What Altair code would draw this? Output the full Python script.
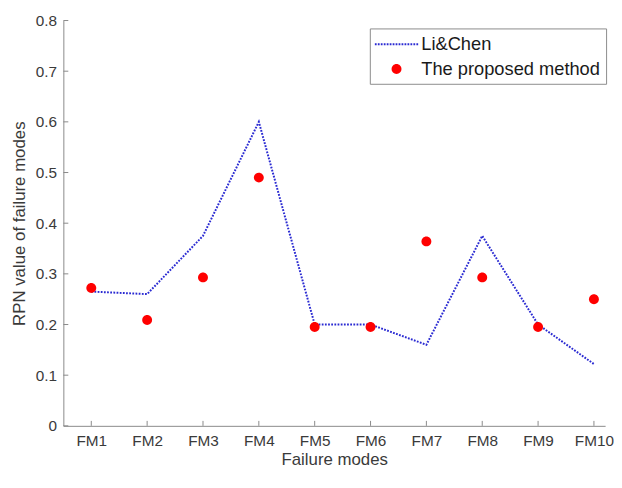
import altair as alt
import pandas as pd

# ---- data ----
modes = ["FM1", "FM2", "FM3", "FM4", "FM5", "FM6", "FM7", "FM8", "FM9", "FM10"]
li_chen = [0.265, 0.260, 0.375, 0.600, 0.200, 0.200, 0.160, 0.375, 0.200, 0.122]
proposed = [0.272, 0.209, 0.293, 0.490, 0.195, 0.195, 0.364, 0.293, 0.195, 0.250]
y_ticks = [0, 0.1, 0.2, 0.3, 0.4, 0.5, 0.6, 0.7, 0.8]
series = ["Li&Chen", "The proposed method"]

BLUE = "#2a2ad2"
RED = "#ff0000"
AXIS = "#8a8a8a"
TEXT = "#3a3a3a"
FONT = "Liberation Sans"
W, H = 548, 410

idx = list(range(1, len(modes) + 1))
df = pd.DataFrame({"idx": idx, "mode": modes, "li": li_chen, "pr": proposed})
df_pts = pd.DataFrame({"idx": idx, "pr": proposed, "series": [series[1]] * len(idx)})
df_yt = pd.DataFrame({"v": y_ticks})

# custom legend/point shapes (unit = sqrt(size)/2 px)
SIZE = 484
u = (SIZE ** 0.5) / 2
dot_parts = []
for k in range(15):
    cx = -21 + 3 * k
    dot_parts.append(
        f"M{(cx - 0.9) / u:.4f},{-0.9 / u:.4f}h{1.8 / u:.4f}v{1.8 / u:.4f}h{-1.8 / u:.4f}Z"
    )
dot_path = "".join(dot_parts)
r = 5 / u
circle_path = f"M{r:.4f},0A{r:.4f},{r:.4f} 0 1,1 {-r:.4f},0A{r:.4f},{r:.4f} 0 1,1 {r:.4f},0Z"

label_expr = "[" + ",".join(f"'{m}'" for m in modes) + "][datum.value-1]"

xscale = alt.Scale(domain=[0.5, 10.2], nice=False, zero=False)
yscale = alt.Scale(domain=[0, 0.8], nice=False)

x_axis = alt.Axis(values=idx, labelExpr=label_expr, title="Failure modes",
                  grid=False, ticks=False, domainColor=AXIS, labelPadding=8,
                  titlePadding=3)
y_axis = alt.Axis(values=y_ticks, format=".1~f", title="RPN value of failure modes",
                  grid=False, ticks=False, domainColor=AXIS, labelPadding=7,
                  titlePadding=7)

line = alt.Chart(df).mark_line(color=BLUE, strokeWidth=2, strokeDash=[1.8, 1.4],
                               strokeCap="butt").encode(
    x=alt.X("idx:Q", scale=xscale, axis=x_axis),
    y=alt.Y("li:Q", scale=yscale, axis=y_axis),
)

points = alt.Chart(df_pts).mark_point(filled=True, opacity=1, strokeWidth=0).encode(
    x=alt.X("idx:Q", scale=xscale, axis=x_axis),
    y=alt.Y("pr:Q", scale=yscale, axis=y_axis),
    color=alt.Color("series:N", scale=alt.Scale(domain=series, range=[BLUE, RED]),
                    title=None,
                    legend=alt.Legend(orient="none", legendX=310, legendY=8,
                                      fillColor="white", strokeColor="#8c8c8c",
                                      padding=5, labelFontSize=18.5, labelFont=FONT,
                                      labelColor="#1a1a1a", symbolOffset=11,
                                      labelOffset=14, rowPadding=4,
                                      symbolSize=SIZE, symbolStrokeWidth=0,
                                      labelLimit=400)),
    shape=alt.Shape("series:N", scale=alt.Scale(domain=series, range=[dot_path, circle_path]),
                    title=None),
    size=alt.value(SIZE),
)

yt = alt.Chart(df_yt).mark_rule(color=AXIS, strokeWidth=1).encode(
    y=alt.Y("v:Q", scale=yscale, axis=y_axis),
    x=alt.value(0), x2=alt.value(5),
)
xt = alt.Chart(df).mark_rule(color=AXIS, strokeWidth=1).encode(
    x=alt.X("idx:Q", scale=xscale, axis=x_axis),
    y=alt.value(H), y2=alt.value(H - 5),
)

chart = alt.layer(line, points, yt, xt).properties(
    width=W, height=H,
    padding={"left": 2, "top": 3, "right": 0, "bottom": 0},
).configure_view(stroke=None).configure_axis(
    labelFont=FONT, titleFont=FONT, labelFontSize=15.5, titleFontSize=17,
    labelColor=TEXT, titleColor=TEXT, titleFontWeight="normal",
)

chart.save("out.html", embed_options={"renderer": "svg", "actions": False})
